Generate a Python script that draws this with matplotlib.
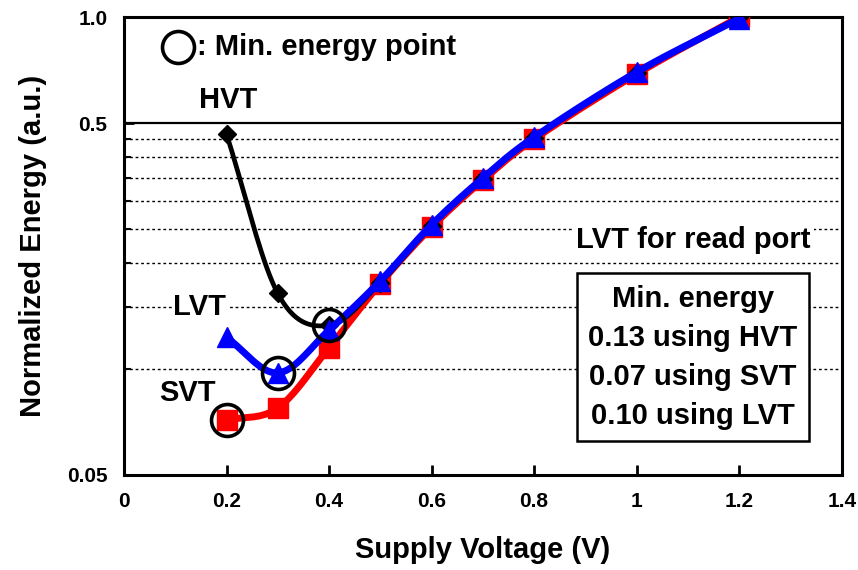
import numpy as np
import matplotlib
matplotlib.use('agg')
import matplotlib.pyplot as plt
from matplotlib.ticker import FixedLocator, NullFormatter, FixedFormatter

plt.rcParams['font.family'] = ['Liberation Sans', 'DejaVu Sans']
plt.rcParams['font.weight'] = 'bold'

# data
vdd     = [0.2, 0.3, 0.4, 0.5, 0.6, 0.7, 0.8, 1.0, 1.2]
e_hvt   = [0.465, 0.164, 0.133, 0.176, 0.255, 0.347, 0.453, 0.694, 1.0]
e_svt   = [0.0716, 0.0775, 0.115, 0.175, 0.253, 0.344, 0.450, 0.689, 1.0]
e_lvt   = [0.123, 0.0975, 0.129, 0.178, 0.257, 0.349, 0.456, 0.698, 0.99]
min_pts = [(0.2, 0.0716), (0.3, 0.0975), (0.4, 0.133)]   # SVT, LVT, HVT minima
box_lines = ["Min. energy", "0.13 using HVT", "0.07 using SVT", "0.10 using LVT"]
minor_y = [0.1, 0.15, 0.2, 0.25, 0.3, 0.35, 0.4, 0.45]
major_y = [0.05, 0.5, 1.0]


def smooth(x, y, n=20):
    """ catmull-rom through the points, in (x, log y), like excel smoothed lines """
    x = np.asarray(x, float)
    ly = np.log10(y)
    px = np.concatenate([[2*x[0]-x[1]], x, [2*x[-1]-x[-2]]])
    py = np.concatenate([[2*ly[0]-ly[1]], ly, [2*ly[-1]-ly[-2]]])
    xs, ys = [], []
    t = np.linspace(0, 1, n)
    for i in range(1, len(px)-2):
        for p, out in ((px, xs), (py, ys)):
            p0, p1, p2, p3 = p[i-1], p[i], p[i+1], p[i+2]
            out.extend(0.5*((2*p1) + (-p0+p2)*t + (2*p0-5*p1+4*p2-p3)*t**2
                            + (-p0+3*p1-3*p2+p3)*t**3))
    return np.array(xs), 10**np.array(ys)


fs = 21      # annotation / label size

fig = plt.figure(figsize=(8.58, 5.70), dpi=100)
ax = fig.add_axes([0.1445, 0.1667, 0.8365, 0.8033])
ax.set_yscale('log')
ax.set_xlim(0, 1.4)
ax.set_ylim(0.05, 1.0)

# grid: dotted minor lines, solid at 0.5
for g in minor_y:
    ax.axhline(g, color='black', lw=1.0, ls=(0, (2, 2)), zorder=1)
ax.axhline(0.5, color='black', lw=1.6, zorder=1)

series = [(e_svt, 'red', 's', 14, 5.0),
          (e_hvt, 'black', 'D', 9, 3.4),
          (e_lvt, 'blue', '^', 15, 5.0)]
for i, (e, c, m, ms, lw) in enumerate(series):
    sx, sy = smooth(vdd, e)
    ax.plot(sx, sy, color=c, lw=lw, zorder=3+i, solid_capstyle='round')
    ax.plot(vdd, e, ls='none', marker=m, ms=ms, color=c, zorder=3+i)

for (x, y) in min_pts:
    ax.plot(x, y, ls='none', marker='o', ms=23, mfc='none', mec='black', mew=2.6, zorder=8)

# legend-like note for the circle
ax.plot(0.105, 0.822, ls='none', marker='o', ms=23, mfc='none', mec='black', mew=2.6,
        zorder=8, clip_on=False)
ax.text(0.142, 0.822, ": Min. energy point", fontsize=fs, fontweight='bold', va='center', ha='left')

lab_bg = dict(facecolor='white', edgecolor='none', pad=1)
ax.text(0.203, 0.581, "HVT", fontsize=fs, ha='center', va='center', bbox=lab_bg, zorder=2)
ax.text(0.148, 0.150, "LVT", fontsize=fs, ha='center', va='center', bbox=lab_bg, zorder=2)
ax.text(0.123, 0.0854, "SVT", fontsize=fs, ha='center', va='center', bbox=lab_bg, zorder=2)
ax.text(1.111, 0.2326, "LVT for read port", fontsize=fs, ha='center', va='center',
        bbox=dict(facecolor='white', edgecolor='none', pad=2), zorder=2)

ax.text(1.110, 0.108, "\n".join(box_lines), fontsize=fs, ha='center', va='center',
        linespacing=1.5, zorder=2,
        bbox=dict(facecolor='white', edgecolor='black', lw=1.8, boxstyle='square,pad=0.4'))

# axes styling
for s in ax.spines.values():
    s.set_linewidth(2.2)
ax.yaxis.set_major_locator(FixedLocator(major_y))
ax.yaxis.set_major_formatter(FixedFormatter(['0.05', '0.5', '1.0']))
ax.yaxis.set_minor_locator(FixedLocator(minor_y))
ax.yaxis.set_minor_formatter(NullFormatter())
ax.set_xticks([0, 0.2, 0.4, 0.6, 0.8, 1.0, 1.2, 1.4])
ax.set_xticklabels(['0', '0.2', '0.4', '0.6', '0.8', '1', '1.2', '1.4'])
ax.tick_params(axis='both', which='major', direction='in', length=7, width=2, labelsize=15)
ax.tick_params(axis='x', which='major', pad=12)
ax.tick_params(axis='y', which='major', pad=12)
ax.tick_params(axis='y', which='minor', direction='in', length=5, width=1.5)
for t in ax.get_xticklabels() + ax.get_yticklabels():
    t.set_fontweight('bold')

ax.set_xlabel("Supply Voltage (V)", fontsize=fs, fontweight='bold', labelpad=18)
ax.set_ylabel("Normalized Energy (a.u.)", fontsize=fs, fontweight='bold', labelpad=14)

fig.savefig("out.png", dpi=100)
